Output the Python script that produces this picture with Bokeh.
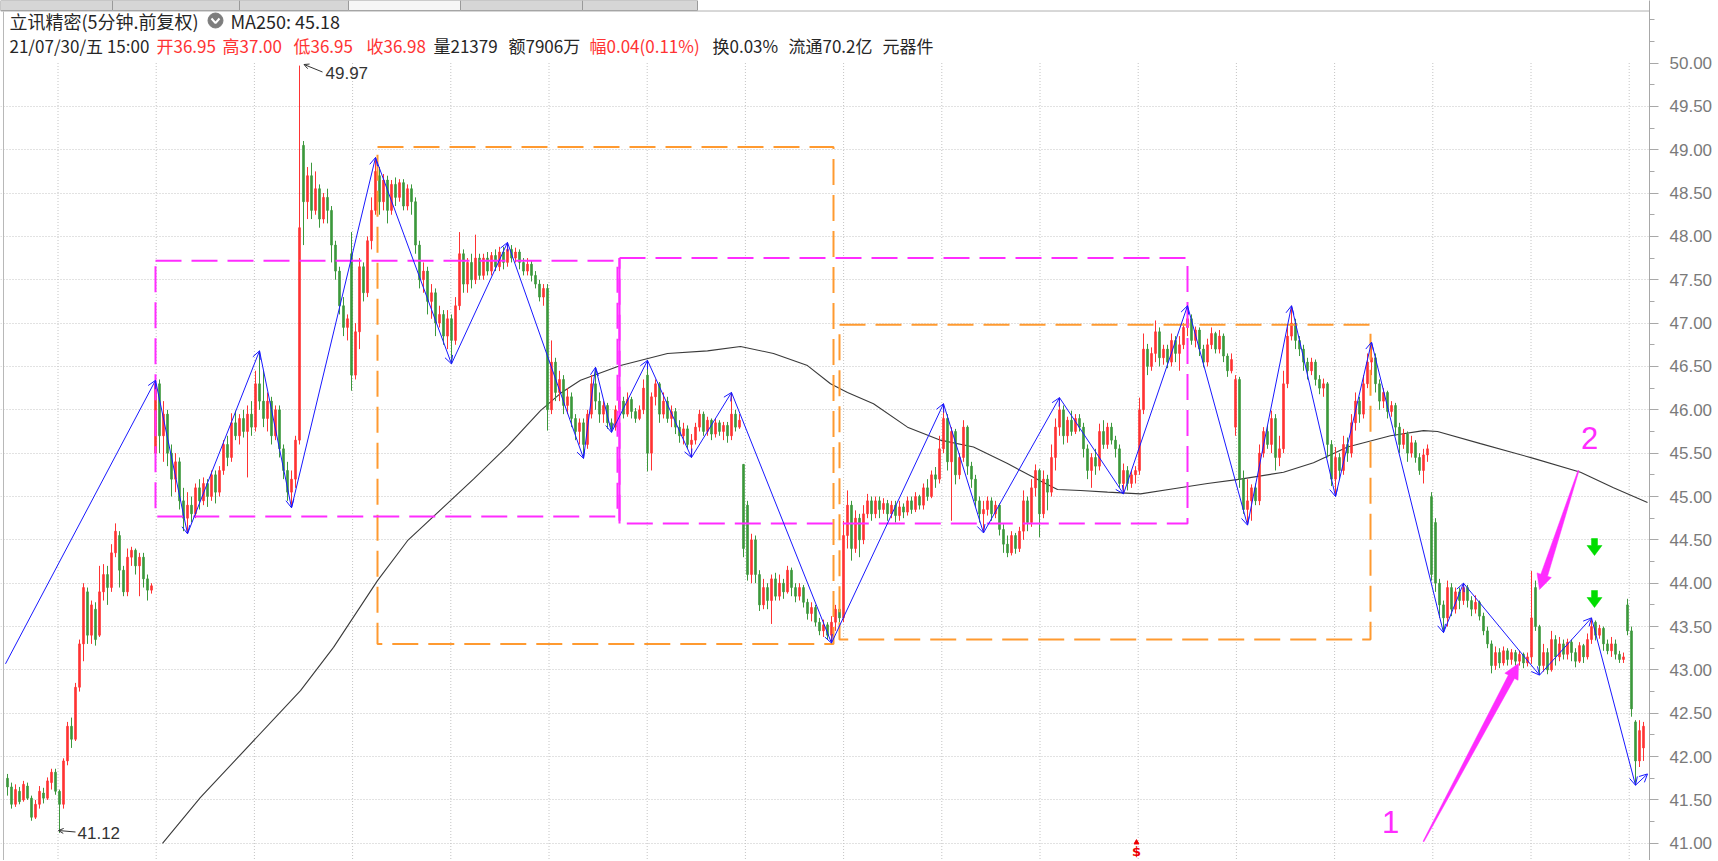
import math
from bokeh.plotting import figure
from bokeh.models import (Range1d, FixedTicker, Label, Arrow, OpenHead,
                          ColumnDataSource, PrintfTickFormatter)
from bokeh.embed import file_html
from bokeh.resources import INLINE

# ---------------- data (5-minute candles) ----------------
opens = [
 41.75, 41.65, 41.45, 41.60, 41.50, 41.66, 41.52, 41.30, 41.45, 41.58,
 41.52, 41.70, 41.82, 41.60, 41.45, 41.95, 42.35, 42.20, 42.80, 43.30,
 43.90, 43.40, 43.70, 43.40, 43.90, 44.10, 43.95, 44.35, 44.55, 44.15,
 43.90, 44.30, 44.38, 44.20, 44.30, 44.05, 43.92, 45.50, 46.30, 45.70,
 45.95, 45.50, 45.20, 45.40, 44.95, 44.75, 44.90, 44.80, 45.10, 44.95,
 45.15, 45.00, 45.25, 45.05, 45.30, 45.60, 45.45, 45.85, 45.70, 45.90,
 45.75, 45.95, 45.80, 46.30, 46.10, 45.90, 46.10, 45.70, 46.00, 45.55,
 45.30, 45.05, 45.20, 45.65, 49.05, 48.40, 48.70, 48.30, 48.55, 48.20,
 48.45, 48.30, 47.90, 47.60, 47.20, 46.95, 47.80, 46.40, 46.90, 47.65,
 47.35, 47.95, 48.30, 48.70, 48.40, 48.65, 48.30, 48.60, 48.45, 48.62,
 48.35, 48.55, 48.40, 47.90, 47.50, 47.60, 47.25, 47.35, 47.00, 47.10,
 46.85, 47.05, 46.80, 47.20, 47.80, 47.45, 47.70, 47.50, 47.75, 47.55,
 47.75, 47.60, 47.78, 47.65, 47.82, 47.70, 47.85, 47.75, 47.82, 47.70,
 47.60, 47.68, 47.55, 47.45, 47.30, 47.40, 46.00, 46.55, 46.20, 46.35,
 46.05, 46.15, 45.90, 45.75, 45.85, 45.60, 45.95, 46.30, 46.10, 45.95,
 46.05, 45.85, 45.80, 46.00, 46.10, 45.95, 46.12, 45.98, 45.90, 46.00,
 46.40, 45.50, 46.15, 46.30, 45.95, 46.10, 45.90, 45.98, 45.80, 45.70,
 45.78, 45.60, 45.65, 45.80, 45.95, 45.75, 45.88, 45.72, 45.85, 45.75,
 45.82, 45.70, 45.95, 45.80, 45.37, 44.90, 44.10, 44.50, 44.10, 43.75,
 43.95, 43.80, 44.05, 43.85, 44.00, 43.90, 44.15, 43.95, 43.85, 43.95,
 43.78, 43.65, 43.72, 43.55, 43.45, 43.52, 43.40, 43.55, 43.70, 43.60,
 44.55, 44.90, 44.40, 44.75, 44.50, 44.80, 44.95, 44.80, 44.95, 44.85,
 44.92, 44.80, 44.90, 44.78, 44.88, 44.82, 44.95, 44.85, 45.00, 44.90,
 45.10, 45.00, 45.25, 45.20, 45.55, 45.90, 45.40, 45.75, 45.25, 45.45,
 45.80, 45.35, 45.20, 44.95, 44.80, 44.85, 44.95, 44.80, 44.90, 44.62,
 44.45, 44.35, 44.55, 44.40, 44.60, 44.95, 44.70, 45.10, 45.30, 44.80,
 45.20, 45.05, 45.45, 45.80, 46.00, 45.70, 45.88, 45.75, 45.90, 45.80,
 45.55, 45.30, 45.45, 45.35, 45.75, 45.60, 45.80, 45.65, 45.55, 45.15,
 45.30, 45.15, 45.25, 45.30, 46.00, 46.70, 46.50, 46.65, 46.90, 46.60,
 46.70, 46.55, 46.80, 46.65, 46.75, 46.95, 47.05, 46.80, 46.92, 46.70,
 46.55, 46.75, 46.88, 46.70, 46.85, 46.62, 46.45, 45.80, 46.35, 45.20,
 44.85, 44.95, 45.10, 44.95, 45.50, 45.75, 45.60, 45.90, 45.45, 45.55,
 46.30, 46.85, 47.00, 46.80, 46.70, 46.55, 46.45, 46.55, 46.35, 46.25,
 46.30, 45.60, 45.20, 45.45, 45.30, 45.60, 45.50, 45.85, 46.10, 45.95,
 46.30, 46.55, 46.60, 46.30, 46.10, 46.20, 45.98, 46.05, 45.80, 45.60,
 45.72, 45.50, 45.62, 45.45, 45.30, 45.48, 45.00, 44.70, 44.00, 43.75,
 43.60, 43.95, 43.70, 43.90, 43.80, 43.95, 43.80, 43.70, 43.78, 43.62,
 43.45, 43.30, 43.05, 43.20, 43.08, 43.22, 43.12, 43.20, 43.10, 43.18,
 43.08, 43.15, 43.95, 43.50, 43.05, 43.20, 43.00, 43.35, 43.15, 43.30,
 43.18, 43.32, 43.20, 43.10, 43.28, 43.15, 43.35, 43.55, 43.40, 43.48,
 43.30, 43.22, 43.30, 43.18, 43.12, 43.75, 43.45, 42.40, 41.95, 42.10]

closes = [
 41.65, 41.45, 41.62, 41.48, 41.68, 41.52, 41.30, 41.45, 41.60, 41.52,
 41.72, 41.82, 41.60, 41.45, 41.95, 42.35, 42.20, 42.80, 43.30, 43.95,
 43.40, 43.75, 43.35, 43.90, 44.10, 43.95, 44.35, 44.60, 44.15, 43.90,
 44.30, 44.38, 44.20, 44.30, 44.05, 43.92, 43.97, 46.30, 45.70, 45.95,
 45.50, 45.20, 45.40, 44.95, 44.75, 44.90, 44.80, 45.10, 44.95, 45.15,
 45.00, 45.25, 45.05, 45.30, 45.60, 45.45, 45.85, 45.70, 45.90, 45.75,
 45.95, 45.80, 46.30, 46.10, 45.90, 46.10, 45.70, 46.00, 45.55, 45.30,
 45.05, 45.20, 45.65, 48.10, 48.40, 48.70, 48.30, 48.55, 48.20, 48.45,
 48.30, 47.90, 47.60, 47.20, 46.95, 47.05, 46.40, 46.90, 47.65, 47.35,
 47.95, 48.30, 48.75, 48.40, 48.65, 48.30, 48.60, 48.45, 48.62, 48.35,
 48.55, 48.40, 47.90, 47.50, 47.60, 47.25, 47.35, 47.00, 47.10, 46.85,
 47.05, 46.80, 47.20, 47.80, 47.45, 47.70, 47.50, 47.75, 47.55, 47.75,
 47.60, 47.78, 47.65, 47.82, 47.70, 47.85, 47.75, 47.82, 47.70, 47.60,
 47.68, 47.55, 47.45, 47.30, 47.40, 46.00, 46.55, 46.20, 46.35, 46.05,
 46.15, 45.90, 45.75, 45.85, 45.60, 45.95, 46.30, 46.10, 45.95, 46.05,
 45.85, 45.80, 46.00, 46.10, 45.95, 46.12, 45.98, 45.90, 46.00, 46.25,
 45.50, 46.15, 46.30, 45.95, 46.10, 45.90, 45.98, 45.80, 45.70, 45.78,
 45.60, 45.65, 45.80, 45.95, 45.75, 45.88, 45.72, 45.85, 45.75, 45.82,
 45.70, 45.95, 45.80, 45.88, 44.40, 44.10, 44.50, 44.10, 43.75, 43.95,
 43.80, 44.05, 43.85, 44.00, 43.90, 44.15, 43.95, 43.85, 43.95, 43.78,
 43.65, 43.72, 43.55, 43.45, 43.52, 43.40, 43.55, 43.70, 43.60, 44.55,
 44.90, 44.40, 44.75, 44.50, 44.80, 44.95, 44.80, 44.95, 44.85, 44.92,
 44.80, 44.90, 44.78, 44.88, 44.82, 44.95, 44.85, 45.00, 44.90, 45.10,
 45.00, 45.25, 45.20, 45.55, 45.90, 45.40, 45.75, 45.25, 45.45, 45.80,
 45.35, 45.20, 44.95, 44.80, 44.85, 44.95, 44.80, 44.90, 44.62, 44.45,
 44.35, 44.55, 44.40, 44.60, 44.95, 44.70, 45.10, 45.30, 44.80, 45.20,
 45.05, 45.45, 45.80, 46.00, 45.70, 45.88, 45.75, 45.90, 45.80, 45.55,
 45.30, 45.45, 45.35, 45.75, 45.60, 45.80, 45.65, 45.55, 45.15, 45.30,
 45.15, 45.25, 45.30, 46.00, 46.70, 46.50, 46.65, 46.90, 46.60, 46.70,
 46.55, 46.80, 46.65, 46.75, 46.95, 47.05, 46.80, 46.92, 46.70, 46.55,
 46.75, 46.88, 46.70, 46.85, 46.62, 46.45, 46.58, 46.35, 45.20, 44.85,
 44.95, 45.10, 44.95, 45.50, 45.75, 45.60, 45.90, 45.45, 45.55, 46.30,
 46.85, 47.00, 46.80, 46.70, 46.55, 46.45, 46.55, 46.35, 46.25, 46.30,
 45.60, 45.20, 45.45, 45.30, 45.60, 45.50, 45.85, 46.10, 45.95, 46.30,
 46.55, 46.60, 46.30, 46.10, 46.20, 45.98, 46.05, 45.80, 45.60, 45.72,
 45.50, 45.62, 45.45, 45.30, 45.48, 45.55, 44.10, 44.00, 43.75, 43.60,
 43.95, 43.70, 43.90, 43.80, 43.95, 43.80, 43.70, 43.78, 43.62, 43.45,
 43.30, 43.05, 43.20, 43.08, 43.22, 43.12, 43.20, 43.10, 43.18, 43.08,
 43.15, 43.60, 43.50, 43.05, 43.20, 43.00, 43.35, 43.15, 43.30, 43.18,
 43.32, 43.20, 43.10, 43.28, 43.15, 43.35, 43.50, 43.40, 43.48, 43.30,
 43.22, 43.30, 43.18, 43.12, 43.15, 43.45, 42.55, 41.95, 42.30, 42.35]

highs = [
 41.80, 41.70, 41.68, 41.65, 41.72, 41.70, 41.55, 41.50, 41.66, 41.64,
 41.76, 41.86, 41.86, 41.62, 41.98, 42.40, 42.45, 42.85, 43.35, 44.00,
 43.95, 43.80, 43.78, 44.20, 44.22, 44.20, 44.45, 44.69, 44.60, 44.20,
 44.40, 44.42, 44.40, 44.35, 44.35, 44.10, 44.00, 46.40, 46.35, 46.10,
 46.00, 45.60, 45.50, 45.45, 45.10, 45.05, 45.00, 45.15, 45.20, 45.22,
 45.20, 45.30, 45.30, 45.35, 45.65, 45.70, 45.96, 45.99, 45.95, 46.00,
 46.05, 46.10, 46.45, 46.68, 46.45, 46.20, 46.15, 46.05, 46.05, 45.60,
 45.40, 45.30, 45.70, 49.97, 49.10, 48.80, 48.85, 48.75, 48.60, 48.50,
 48.55, 48.35, 47.95, 47.65, 47.30, 47.10, 48.05, 47.00, 47.75, 47.70,
 48.00, 48.45, 48.91, 48.80, 48.72, 48.70, 48.65, 48.68, 48.66, 48.66,
 48.60, 48.60, 48.45, 47.95, 47.70, 47.65, 47.45, 47.40, 47.20, 47.15,
 47.15, 47.10, 47.30, 48.05, 47.85, 47.75, 47.80, 48.02, 47.80, 47.80,
 47.82, 47.82, 47.85, 47.88, 47.88, 47.93, 47.90, 47.87, 47.85, 47.75,
 47.75, 47.72, 47.60, 47.50, 47.45, 47.45, 46.80, 46.60, 46.45, 46.40,
 46.25, 46.20, 45.95, 45.90, 45.90, 46.00, 46.40, 46.49, 46.20, 46.10,
 46.08, 45.90, 46.05, 46.20, 46.15, 46.20, 46.15, 46.02, 46.05, 46.35,
 46.57, 46.20, 46.35, 46.32, 46.20, 46.15, 46.05, 46.02, 45.88, 45.85,
 45.82, 45.72, 45.85, 46.00, 45.98, 45.92, 45.90, 45.90, 45.88, 45.86,
 45.86, 46.20, 46.00, 45.95, 45.37, 44.95, 44.57, 44.55, 44.15, 44.05,
 44.00, 44.10, 44.12, 44.10, 44.05, 44.20, 44.18, 44.00, 44.00, 43.98,
 43.82, 43.78, 43.75, 43.60, 43.58, 43.55, 43.62, 43.75, 43.78, 44.72,
 45.07, 44.95, 44.84, 44.80, 44.90, 45.03, 45.00, 45.00, 45.00, 44.98,
 44.96, 44.95, 44.95, 44.95, 44.92, 45.00, 45.00, 45.05, 45.02, 45.15,
 45.20, 45.30, 45.34, 45.70, 46.07, 45.95, 45.80, 45.78, 45.50, 45.88,
 45.82, 45.40, 45.25, 45.00, 44.95, 45.00, 44.99, 44.95, 44.92, 44.68,
 44.55, 44.60, 44.58, 44.65, 45.07, 45.00, 45.20, 45.37, 45.32, 45.30,
 45.25, 45.60, 45.90, 46.14, 46.05, 45.92, 45.99, 45.95, 45.95, 45.85,
 45.60, 45.50, 45.55, 45.84, 45.88, 45.85, 45.85, 45.70, 45.60, 45.38,
 45.35, 45.30, 45.35, 46.14, 46.88, 46.76, 46.72, 47.03, 46.95, 46.75,
 46.75, 46.88, 46.85, 46.85, 47.00, 47.20, 47.10, 46.96, 46.95, 46.75,
 46.82, 46.95, 46.90, 46.92, 46.88, 46.65, 46.65, 46.40, 46.38, 45.30,
 45.20, 45.14, 45.15, 45.60, 45.80, 45.82, 45.99, 45.95, 45.70, 46.45,
 46.96, 47.20, 47.05, 46.85, 46.75, 46.60, 46.60, 46.58, 46.40, 46.36,
 46.32, 45.65, 45.57, 45.50, 45.70, 45.68, 45.95, 46.20, 46.15, 46.40,
 46.65, 46.78, 46.65, 46.35, 46.25, 46.22, 46.10, 46.08, 45.85, 45.78,
 45.75, 45.70, 45.65, 45.50, 45.55, 45.60, 45.05, 44.75, 44.05, 43.80,
 44.03, 44.00, 43.95, 43.95, 44.00, 43.98, 43.85, 43.86, 43.80, 43.66,
 43.50, 43.34, 43.27, 43.25, 43.27, 43.25, 43.24, 43.23, 43.22, 43.20,
 43.20, 44.14, 44.03, 43.52, 43.30, 43.25, 43.45, 43.40, 43.38, 43.35,
 43.36, 43.35, 43.25, 43.32, 43.30, 43.42, 43.60, 43.57, 43.52, 43.50,
 43.35, 43.38, 43.35, 43.22, 43.20, 43.82, 43.50, 42.42, 42.42, 42.40]

lows = [
 41.55, 41.40, 41.42, 41.45, 41.48, 41.50, 41.26, 41.28, 41.40, 41.46,
 41.50, 41.62, 41.56, 41.12, 41.40, 41.90, 42.10, 42.18, 42.75, 43.10,
 43.30, 43.30, 43.28, 43.38, 43.80, 43.75, 43.90, 44.30, 43.95, 43.85,
 43.85, 44.20, 44.10, 43.85, 43.95, 43.80, 43.88, 45.40, 45.50, 45.40,
 45.35, 45.00, 45.05, 44.85, 44.60, 44.57, 44.70, 44.75, 44.85, 44.90,
 44.88, 44.95, 44.92, 45.00, 45.25, 45.35, 45.40, 45.65, 45.60, 45.68,
 45.22, 45.70, 45.75, 46.00, 45.80, 45.75, 45.60, 45.65, 45.45, 45.20,
 44.95, 44.87, 45.10, 45.60, 47.90, 48.20, 48.20, 48.25, 48.10, 48.15,
 48.15, 47.70, 47.50, 47.10, 46.85, 46.80, 46.22, 46.35, 46.70, 47.25,
 47.30, 47.85, 48.25, 48.25, 48.30, 48.15, 48.25, 48.35, 48.40, 48.30,
 48.30, 48.25, 47.80, 47.40, 47.35, 47.10, 47.05, 46.85, 46.95, 46.75,
 46.70, 46.53, 46.75, 47.15, 47.35, 47.35, 47.40, 47.45, 47.50, 47.50,
 47.55, 47.55, 47.60, 47.60, 47.62, 47.65, 47.70, 47.70, 47.62, 47.55,
 47.55, 47.48, 47.40, 47.25, 47.20, 45.76, 45.95, 46.10, 46.10, 45.95,
 45.95, 45.80, 45.65, 45.60, 45.44, 45.55, 45.90, 46.00, 45.85, 45.85,
 45.78, 45.74, 45.76, 45.90, 45.90, 45.92, 45.90, 45.85, 45.88, 45.95,
 45.29, 45.30, 46.05, 45.85, 45.90, 45.85, 45.80, 45.72, 45.62, 45.60,
 45.55, 45.45, 45.60, 45.75, 45.70, 45.70, 45.65, 45.68, 45.70, 45.65,
 45.62, 45.65, 45.75, 45.78, 44.30, 44.03, 44.00, 44.00, 43.68, 43.70,
 43.70, 43.53, 43.80, 43.80, 43.82, 43.88, 43.85, 43.78, 43.80, 43.72,
 43.58, 43.56, 43.50, 43.40, 43.38, 43.35, 43.31, 43.45, 43.55, 43.55,
 44.40, 44.26, 44.35, 44.30, 44.45, 44.75, 44.72, 44.75, 44.75, 44.80,
 44.72, 44.75, 44.70, 44.72, 44.75, 44.78, 44.80, 44.82, 44.85, 44.85,
 44.95, 44.98, 45.10, 45.15, 45.50, 45.30, 44.72, 45.14, 45.20, 45.40,
 45.25, 45.10, 44.88, 44.70, 44.58, 44.78, 44.72, 44.75, 44.55, 44.35,
 44.30, 44.32, 44.34, 44.36, 44.50, 44.60, 44.65, 45.00, 44.53, 44.75,
 44.84, 45.00, 45.30, 45.70, 45.60, 45.62, 45.70, 45.72, 45.75, 45.45,
 45.20, 45.10, 45.25, 45.30, 45.55, 45.55, 45.60, 45.45, 45.10, 45.03,
 45.07, 45.10, 45.15, 45.25, 45.95, 46.40, 46.45, 46.55, 46.50, 46.52,
 46.48, 46.50, 46.55, 46.45, 46.70, 46.85, 46.75, 46.72, 46.62, 46.49,
 46.50, 46.70, 46.65, 46.65, 46.55, 46.38, 46.42, 45.70, 45.10, 44.80,
 44.67, 44.72, 44.90, 44.90, 45.45, 45.55, 45.50, 45.30, 45.35, 45.50,
 46.25, 46.80, 46.70, 46.62, 46.45, 46.35, 46.40, 46.28, 46.18, 46.15,
 45.45, 45.12, 45.00, 45.19, 45.25, 45.40, 45.45, 45.76, 45.85, 45.90,
 46.25, 46.40, 46.20, 46.00, 46.02, 45.90, 45.92, 45.70, 45.50, 45.55,
 45.40, 45.45, 45.39, 45.25, 45.15, 45.40, 44.03, 43.90, 43.60, 43.43,
 43.50, 43.62, 43.65, 43.70, 43.75, 43.72, 43.62, 43.65, 43.57, 43.40,
 43.25, 42.96, 43.00, 43.02, 43.05, 43.05, 43.06, 43.05, 43.05, 43.02,
 43.04, 43.07, 43.45, 42.94, 42.98, 42.95, 42.98, 43.05, 43.10, 43.12,
 43.12, 43.10, 43.03, 43.08, 43.08, 43.12, 43.30, 43.34, 43.36, 43.22,
 43.18, 43.15, 43.12, 43.08, 43.08, 43.40, 42.46, 41.67, 41.88, 41.95]

# MA250 (candle index, value)
ma_idx = [38.75, 48.25, 73.25, 81.5, 92.5, 100, 116.5, 125, 133.25, 138.25,
          143.25, 153.25, 165, 175, 183.25, 191.5, 200, 205.75, 210, 216.5,
          225, 233.25, 241.5, 250, 258.25, 262.5, 268.25, 275, 283.25, 291.5,
          300, 308.25, 319, 326.5, 335, 345.75, 354, 357.5, 368.25, 381.5,
          393.25, 401.5, 410]
ma_val = [41.00, 41.53, 42.76, 43.26, 44.03, 44.49, 45.20, 45.58, 45.99, 46.19,
          46.34, 46.51, 46.65, 46.68, 46.73, 46.65, 46.51, 46.30, 46.20, 46.07,
          45.80, 45.65, 45.57, 45.38, 45.18, 45.08, 45.07, 45.05, 45.03, 45.09,
          45.15, 45.20, 45.28, 45.39, 45.57, 45.70, 45.76, 45.75, 45.61, 45.44,
          45.28, 45.10, 44.93]

# zig-zag pivots (candle index, price)
zz_idx = [-0.5, 37, 45, 63, 71, 92, 111, 125, 144, 147, 151, 160, 171, 181, 206,
          234, 244, 263, 279, 295, 310, 321, 332, 341, 359, 364, 383, 396, 407, 410]
zz_val = [43.07, 46.34, 44.57, 46.68, 44.87, 48.91, 46.53, 47.93, 45.44, 46.49,
          45.74, 46.57, 45.45, 46.20, 43.31, 46.07, 44.58, 46.14, 45.03, 47.20,
          44.67, 47.20, 45.00, 46.78, 43.43, 44.00, 42.94, 43.60, 41.67, 41.80]

# boxes: (start idx, end idx, low, high)
magenta_boxes = [(37, 152.5, 44.77, 47.72), (153, 295, 44.69, 47.75)]
orange_boxes = [(92.5, 206.5, 43.30, 49.03), (208, 340.75, 43.35, 46.98)]

price_ticks = [41.0, 41.5, 42.0, 42.5, 43.0, 43.5, 44.0, 44.5, 45.0, 45.5,
               46.0, 46.5, 47.0, 47.5, 48.0, 48.5, 49.0, 49.5, 50.0]
grid_ticks = price_ticks[:-1]
minor_ticks = [40.75 + 0.25 * k for k in range(40)]

max_label = "49.97"
min_label = "41.12"

# ---------------- layout helpers (pixel geometry of the reference) ----------------
SX, X0, SY, Y50 = 4.0, 7.0, 86.7, 62.5
def px2x(px):
    return (px - X0) / SX
def py2v(py):
    return 50.0 - (py - Y50) / SY

RED, GREEN = "#ff3333", "#3c983c"
BLUE, MAG, ORG = "#1818ff", "#ff2cff", "#ff9a30"
CJK = "Noto Sans CJK SC"

p = figure(frame_width=1649, frame_height=860,
           x_range=Range1d(px2x(0), px2x(1649)),
           y_range=Range1d(py2v(860), py2v(0)),
           output_backend="svg", toolbar_location=None,
           x_axis_location=None, y_axis_location="right",
           min_border_left=0, min_border_top=0, min_border_bottom=0,
           min_border_right=0,
           background_fill_color="white", border_fill_color="white",
           outline_line_color=None)
p.xgrid.visible = False

ax = p.yaxis[0]
ax.ticker = FixedTicker(ticks=price_ticks, minor_ticks=minor_ticks)
ax.formatter = PrintfTickFormatter(format="%.2f")
ax.axis_line_color = "#a8a8a8"
ax.major_tick_line_color = "#a8a8a8"
ax.minor_tick_line_color = "#a8a8a8"
ax.major_tick_in = 0
ax.major_tick_out = 9
ax.minor_tick_in = 0
ax.minor_tick_out = 5
ax.major_label_standoff = 11
ax.major_label_text_color = "#7a7a7a"
ax.major_label_text_font = "Liberation Sans"
ax.major_label_text_font_size = "17px"

p.ygrid.ticker = FixedTicker(ticks=grid_ticks)
p.ygrid.grid_line_color = "#c4c4c4"
p.ygrid.grid_line_dash = "1 2"

# tab strip at the very top (cut off in the screenshot)
tab_edges = [0, 112, 239, 348, 460, 582, 697]
tab_fill = ["#d6d6d6", "#d6d6d6", "#d6d6d6", "#f6f6f6", "#d6d6d6", "#d6d6d6"]
p.quad(left=[px2x(a) for a in tab_edges[:-1]], right=[px2x(b) for b in tab_edges[1:]],
       top=[py2v(0)] * 6, bottom=[py2v(10)] * 6, fill_color=tab_fill,
       line_color="#9a9a9a", line_width=1)
p.segment(x0=[px2x(0)], x1=[px2x(1649)], y0=[py2v(10.5)], y1=[py2v(10.5)],
          line_color="#b0b0b0", line_width=1)

# left border line of the chart panel
p.segment(x0=[px2x(3)], x1=[px2x(3)], y0=[py2v(11)], y1=[py2v(861)],
          line_color="#b8b8b8", line_width=1)

# vertical dotted grid
vg = [px2x(57.5 + 98.2 * k) for k in range(17)]
p.segment(x0=vg, x1=vg, y0=[50.0] * len(vg), y1=[py2v(861)] * len(vg),
          line_color="#c4c4c4", line_dash="1 2", line_width=1)

# MA250
p.line(ma_idx, ma_val, line_color="#3a3a3a", line_width=1.1)

# candles
n = len(closes)
idx = list(range(n))
cols = [RED if c >= o else GREEN for o, c in zip(opens, closes)]
src = ColumnDataSource(dict(
    x=idx, hi=highs, lo=lows,
    top=[max(o, c) for o, c in zip(opens, closes)],
    bot=[min(o, c) for o, c in zip(opens, closes)],
    col=cols))
p.segment(x0="x", x1="x", y0="lo", y1="hi", line_color="col", line_width=1, source=src)
p.vbar(x="x", width=0.38, top="top", bottom="bot", fill_color="col",
       line_color="col", line_width=1, source=src)

# boxes
def box(x0, x1, y0, y1):
    return [x0, x1, x1, x0, x0], [y1, y1, y0, y0, y1]
for b in orange_boxes:
    xs, ys = box(*b)
    p.line(xs, ys, line_color=ORG, line_width=2, line_dash="26 10")
for b in magenta_boxes:
    xs, ys = box(*b)
    p.line(xs, ys, line_color=MAG, line_width=2, line_dash="26 10")
p.segment(x0=[magenta_boxes[1][0]], x1=[magenta_boxes[1][0]],
          y0=[magenta_boxes[1][2]], y1=[magenta_boxes[1][3]],
          line_color=MAG, line_width=2)

# zig-zag with arrowheads
zsrc = ColumnDataSource(dict(x0=zz_idx[:-1], y0=zz_val[:-1], x1=zz_idx[1:], y1=zz_val[1:]))
p.add_layout(Arrow(x_start="x0", y_start="y0", x_end="x1", y_end="y1", source=zsrc,
                   line_color=BLUE, line_width=1,
                   end=OpenHead(size=8, line_color=BLUE, line_width=1)))

# extreme annotations
def note(tip_px, tail_px, txt_px, txt):
    p.add_layout(Arrow(x_start=px2x(tail_px[0]), y_start=py2v(tail_px[1]),
                       x_end=px2x(tip_px[0]), y_end=py2v(tip_px[1]),
                       line_color="#333333", line_width=1,
                       end=OpenHead(size=5, line_color="#333333", line_width=1)))
    p.add_layout(Label(x=px2x(txt_px[0]), y=py2v(txt_px[1]), text=txt,
                       text_font="Liberation Sans", text_font_size="17px",
                       text_color="#333333", text_baseline="middle", text_align="left"))
note((303.5, 64), (322, 71.5), (325, 72), max_label)
note((58, 830), (75, 831.5), (77, 832), min_label)

# magenta tapered arrows
def wedge(tail, tip, w0=0.5, w1=3.5, wh=7.5, hl=15):
    (x0, y0), (x1, y1) = tail, tip
    L = math.hypot(x1 - x0, y1 - y0)
    ux, uy = (x1 - x0) / L, (y1 - y0) / L
    nx, ny = -uy, ux
    bx, by = x1 - ux * hl, y1 - uy * hl
    pts = [(x0 + nx * w0, y0 + ny * w0), (bx + nx * w1, by + ny * w1),
           (bx + nx * wh, by + ny * wh), (x1, y1),
           (bx - nx * wh, by - ny * wh), (bx - nx * w1, by - ny * w1),
           (x0 - nx * w0, y0 - ny * w0)]
    return [px2x(a) for a, _ in pts], [py2v(b) for _, b in pts]
for tail, tip in [((1423, 841), (1518, 663)), ((1578, 470), (1539, 589))]:
    xs, ys = wedge(tail, tip)
    p.patch(xs, ys, fill_color=MAG, line_color=MAG, line_width=0.5)

for t, (cx, cy) in [("1", (1390, 821)), ("2", (1589, 437))]:
    p.add_layout(Label(x=px2x(cx), y=py2v(cy), text=t, text_font="Liberation Sans",
                       text_font_size="31px", text_color=MAG,
                       text_align="center", text_baseline="middle"))

# green sell arrows
for top in (538, 590):
    shape = [(-3, 0), (3, 0), (3, 7), (7.5, 7), (0, 17), (-7.5, 7), (-3, 7)]
    p.patch([px2x(1594 + a) for a, _ in shape], [py2v(top + b) for _, b in shape],
            fill_color="#00dd00", line_color="#00dd00", line_width=0.5)

# "$" event marker
p.scatter([px2x(1136)], [py2v(842)], marker="triangle", size=5, color="#ee0000")
p.add_layout(Label(x=px2x(1136), y=py2v(851), text="$", text_font="DejaVu Sans",
                   text_font_style="bold", text_font_size="13px", text_color="#ee0000",
                   text_align="center", text_baseline="middle"))

# header text
def htext(x, y, s, color, size="17px"):
    p.add_layout(Label(x=px2x(x), y=py2v(y), text=s, text_font=CJK,
                       text_font_size=size, text_color=color,
                       text_align="left", text_baseline="middle"))
DARK = "#262626"
htext(9, 20, "立讯精密(5分钟.前复权)", DARK, "18px")
p.scatter([px2x(215)], [py2v(20)], marker="circle", size=15, color="#7d7d7d")
p.line([px2x(211), px2x(215), px2x(219)], [py2v(18), py2v(22.5), py2v(18)],
       line_color="white", line_width=2)
htext(230, 20, "MA250: 45.18", DARK, "18px")
for x, s, c in [(9, "21/07/30/五 15:00", DARK),
                (156, "开36.95", RED), (222, "高37.00", RED),
                (293, "低36.95", RED), (366, "收36.98", RED),
                (433, "量21379", DARK), (508, "额7906万", DARK),
                (589, "幅0.04(0.11%)", RED), (712, "换0.03%", DARK),
                (788, "流通70.2亿", DARK), (882, "元器件", DARK)]:
    htext(x, 45, s, c)

open("out.html", "w").write(file_html(p, INLINE))
